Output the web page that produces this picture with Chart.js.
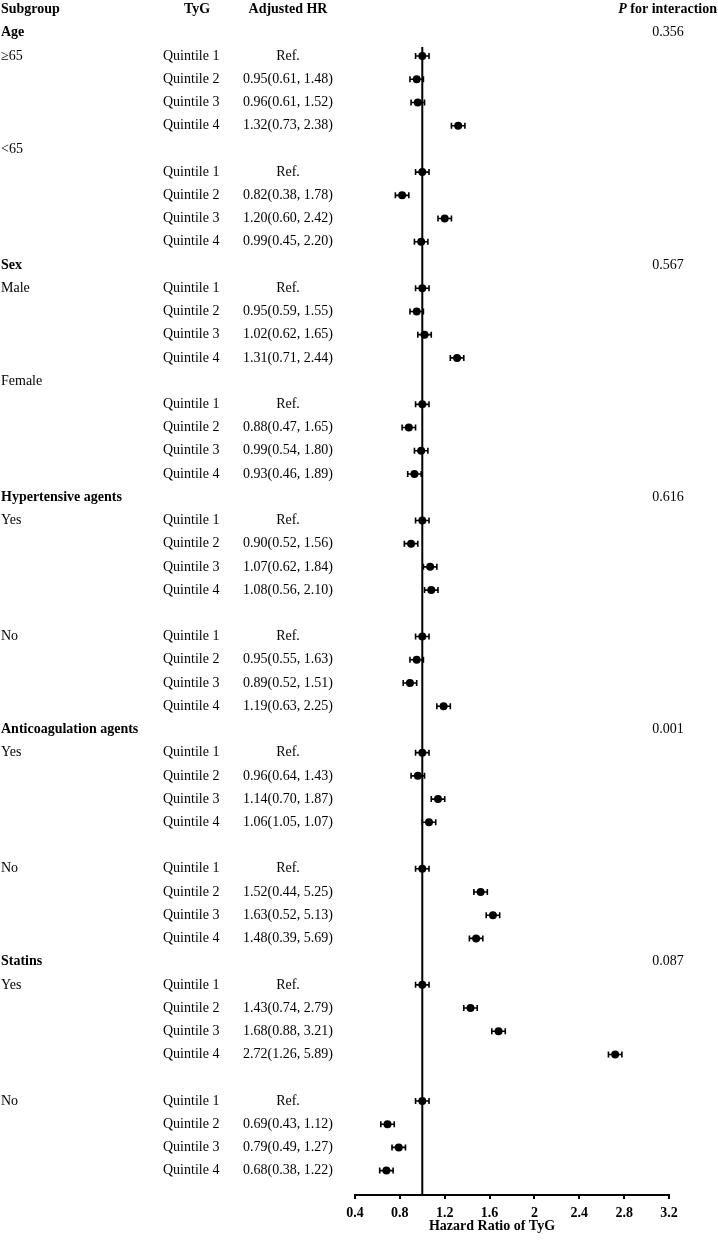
<!DOCTYPE html>
<html>
<head>
<meta charset="utf-8">
<title>Subgroup analysis of TyG</title>
<script src="https://cdn.jsdelivr.net/npm/chart.js@4.4.1/dist/chart.umd.min.js"></script>
<style>
    html, body { margin: 0; padding: 0; background: #fff; }
    #forest { display: block; }
</style>
</head>
<body>
<canvas id="forest" width="718" height="1240"></canvas>
<script>
// table headers
const headSubgroup = 'Subgroup';
const headTyG = 'TyG';
const headHR = 'Adjusted HR';
const headP = ['P', ' for interaction'];

// one entry per row, row 0 is the header row
const subgroupText = [
    '', 'Age', '≥65', '', '', '', '<65', '', '', '', '',
    'Sex', 'Male', '', '', '', 'Female', '', '', '', '',
    'Hypertensive agents', 'Yes', '', '', '', '', 'No', '', '', '',
    'Anticoagulation agents', 'Yes', '', '', '', '', 'No', '', '', '',
    'Statins', 'Yes', '', '', '', '', 'No', '', '', ''
];
const groupRows = [1, 11, 21, 31, 41];

const quintileText = [
    '', '', 'Quintile 1', 'Quintile 2', 'Quintile 3', 'Quintile 4', '', 'Quintile 1', 'Quintile 2', 'Quintile 3', 'Quintile 4',
    '', 'Quintile 1', 'Quintile 2', 'Quintile 3', 'Quintile 4', '', 'Quintile 1', 'Quintile 2', 'Quintile 3', 'Quintile 4',
    '', 'Quintile 1', 'Quintile 2', 'Quintile 3', 'Quintile 4', '', 'Quintile 1', 'Quintile 2', 'Quintile 3', 'Quintile 4',
    '', 'Quintile 1', 'Quintile 2', 'Quintile 3', 'Quintile 4', '', 'Quintile 1', 'Quintile 2', 'Quintile 3', 'Quintile 4',
    '', 'Quintile 1', 'Quintile 2', 'Quintile 3', 'Quintile 4', '', 'Quintile 1', 'Quintile 2', 'Quintile 3', 'Quintile 4'
];

const hrText = [
    '', '', 'Ref.', '0.95(0.61, 1.48)', '0.96(0.61, 1.52)', '1.32(0.73, 2.38)', '', 'Ref.', '0.82(0.38, 1.78)', '1.20(0.60, 2.42)', '0.99(0.45, 2.20)',
    '', 'Ref.', '0.95(0.59, 1.55)', '1.02(0.62, 1.65)', '1.31(0.71, 2.44)', '', 'Ref.', '0.88(0.47, 1.65)', '0.99(0.54, 1.80)', '0.93(0.46, 1.89)',
    '', 'Ref.', '0.90(0.52, 1.56)', '1.07(0.62, 1.84)', '1.08(0.56, 2.10)', '', 'Ref.', '0.95(0.55, 1.63)', '0.89(0.52, 1.51)', '1.19(0.63, 2.25)',
    '', 'Ref.', '0.96(0.64, 1.43)', '1.14(0.70, 1.87)', '1.06(1.05, 1.07)', '', 'Ref.', '1.52(0.44, 5.25)', '1.63(0.52, 5.13)', '1.48(0.39, 5.69)',
    '', 'Ref.', '1.43(0.74, 2.79)', '1.68(0.88, 3.21)', '2.72(1.26, 5.89)', '', 'Ref.', '0.69(0.43, 1.12)', '0.79(0.49, 1.27)', '0.68(0.38, 1.22)'
];

const pText = [
    '', '0.356', '', '', '', '', '', '', '', '', '',
    '0.567', '', '', '', '', '', '', '', '', '',
    '0.616', '', '', '', '', '', '', '', '', '',
    '0.001', '', '', '', '', '', '', '', '', '',
    '0.087', '', '', '', '', '', '', '', '', ''
];

// plotted hazard ratios and the short whiskers drawn round them
const hrPoint = [
    null, null, 1.00, 0.95, 0.96, 1.32, null, 1.00, 0.82, 1.20, 0.99,
    null, 1.00, 0.95, 1.02, 1.31, null, 1.00, 0.88, 0.99, 0.93,
    null, 1.00, 0.90, 1.07, 1.08, null, 1.00, 0.95, 0.89, 1.19,
    null, 1.00, 0.96, 1.14, 1.06, null, 1.00, 1.52, 1.63, 1.48,
    null, 1.00, 1.43, 1.68, 2.72, null, 1.00, 0.69, 0.79, 0.68
];
const barLow = [
    null, null, 0.94, 0.89, 0.90, 1.26, null, 0.94, 0.76, 1.14, 0.93,
    null, 0.94, 0.89, 0.96, 1.25, null, 0.94, 0.82, 0.93, 0.87,
    null, 0.94, 0.84, 1.01, 1.02, null, 0.94, 0.89, 0.83, 1.13,
    null, 0.94, 0.90, 1.08, 1.00, null, 0.94, 1.46, 1.57, 1.42,
    null, 0.94, 1.37, 1.62, 2.66, null, 0.94, 0.63, 0.73, 0.62
];
const barHigh = [
    null, null, 1.06, 1.01, 1.02, 1.38, null, 1.06, 0.88, 1.26, 1.05,
    null, 1.06, 1.01, 1.08, 1.37, null, 1.06, 0.94, 1.05, 0.99,
    null, 1.06, 0.96, 1.13, 1.14, null, 1.06, 1.01, 0.95, 1.25,
    null, 1.06, 1.02, 1.20, 1.12, null, 1.06, 1.58, 1.69, 1.54,
    null, 1.06, 1.49, 1.74, 2.78, null, 1.06, 0.75, 0.85, 0.74
];

const refHR = 1;
const xTickValues = [0.4, 0.8, 1.2, 1.6, 2, 2.4, 2.8, 3.2];
const xTickLabels = ['0.4', '0.8', '1.2', '1.6', '2', '2.4', '2.8', '3.2'];
const xTitle = 'Hazard Ratio of TyG';

const FONT = '"Liberation Serif", "Times New Roman", serif';
const COL = { subgroup: 1, tyg: 163, tygHead: 197, hr: 288, p: 668, pRight: 717 };

const points = [];
hrPoint.forEach((v, i) => { if (v !== null) points.push({ x: v, y: i, lo: barLow[i], hi: barHigh[i] }); });

// whiskers go under the dots
const whiskerPlugin = {
    id: 'whiskers',
    beforeDatasetDraw(chart, args) {
        if (args.index !== 1) return;
        const ctx = chart.ctx;
        const xs = chart.scales.x;
        const ys = chart.scales.y;
        ctx.save();
        ctx.strokeStyle = '#000';
        ctx.lineWidth = 1.6;
        points.forEach(p => {
            const y = ys.getPixelForValue(p.y);
            const x1 = xs.getPixelForValue(p.lo);
            const x2 = xs.getPixelForValue(p.hi);
            ctx.beginPath();
            ctx.moveTo(x1, y); ctx.lineTo(x2, y);
            ctx.moveTo(x1, y - 3); ctx.lineTo(x1, y + 3);
            ctx.moveTo(x2, y - 3); ctx.lineTo(x2, y + 3);
            ctx.stroke();
        });
        ctx.restore();
    }
};

const tablePlugin = {
    id: 'forestTable',
    afterDraw(chart) {
        const ctx = chart.ctx;
        const ys = chart.scales.y;
        const xs = chart.scales.x;
        ctx.save();
        ctx.fillStyle = '#000';
        ctx.textBaseline = 'middle';

        const hy = ys.getPixelForValue(0);
        ctx.font = `bold 14px ${FONT}`;
        ctx.textAlign = 'left';
        ctx.fillText(headSubgroup, COL.subgroup, hy);
        ctx.textAlign = 'center';
        ctx.fillText(headTyG, COL.tygHead, hy);
        ctx.fillText(headHR, COL.hr, hy);

        // "P for interaction", P in italics, right aligned
        ctx.textAlign = 'left';
        ctx.font = `bold 14px ${FONT}`;
        const restW = ctx.measureText(headP[1]).width;
        ctx.font = `italic bold 14px ${FONT}`;
        const pW = ctx.measureText(headP[0]).width;
        const px = COL.pRight - restW - pW;
        ctx.fillText(headP[0], px, hy);
        ctx.font = `bold 14px ${FONT}`;
        ctx.fillText(headP[1], px + pW, hy);

        for (let i = 1; i < subgroupText.length; i++) {
            const y = ys.getPixelForValue(i);
            if (subgroupText[i]) {
                ctx.font = groupRows.includes(i) ? `bold 14px ${FONT}` : `14px ${FONT}`;
                ctx.textAlign = 'left';
                ctx.fillText(subgroupText[i], COL.subgroup, y);
            }
            ctx.font = `14px ${FONT}`;
            if (quintileText[i]) {
                ctx.textAlign = 'left';
                ctx.fillText(quintileText[i], COL.tyg, y);
            }
            if (hrText[i]) {
                ctx.textAlign = 'center';
                ctx.fillText(hrText[i], COL.hr, y);
            }
            if (pText[i]) {
                ctx.textAlign = 'center';
                ctx.fillText(pText[i], COL.p, y);
            }
        }

        // axis title, sits a little left of the axis centre as in the original
        ctx.font = `bold 14px ${FONT}`;
        ctx.textAlign = 'center';
        ctx.fillText(xTitle, 492, xs.top + 31);
        ctx.restore();
    }
};

new Chart(document.getElementById('forest'), {
    type: 'scatter',
    data: {
        datasets: [
            {
                type: 'line',
                data: [{ x: refHR, y: 1.61 }, { x: refHR, y: 51.05 }],
                borderColor: '#000',
                borderWidth: 2,
                pointRadius: 0,
                order: 2
            },
            {
                data: points,
                backgroundColor: '#000',
                borderColor: '#000',
                borderWidth: 0,
                pointRadius: 4,
                order: 1
            }
        ]
    },
    options: {
        responsive: false,
        animation: false,
        events: [],
        layout: { padding: { left: 355, right: 49, top: 0, bottom: 13 } },
        plugins: { legend: { display: false }, tooltip: { enabled: false } },
        scales: {
            x: {
                type: 'linear',
                min: 0.4,
                max: 3.2,
                afterBuildTicks: s => { s.ticks = xTickValues.map(v => ({ value: v })); },
                ticks: {
                    callback: (v, i) => xTickLabels[i],
                    color: '#000',
                    font: { family: FONT, size: 14, weight: 'bold', lineHeight: 1 },
                    padding: 7,
                    maxRotation: 0,
                    autoSkip: false
                },
                grid: { drawOnChartArea: false, drawTicks: true, tickLength: 4, color: '#000', lineWidth: 2 },
                border: { display: true, color: '#000', width: 2 }
            },
            y: {
                type: 'linear',
                display: false,
                reverse: true,
                min: -0.24,
                max: 51.05
            }
        }
    },
    plugins: [whiskerPlugin, tablePlugin]
});
</script>
</body>
</html>
